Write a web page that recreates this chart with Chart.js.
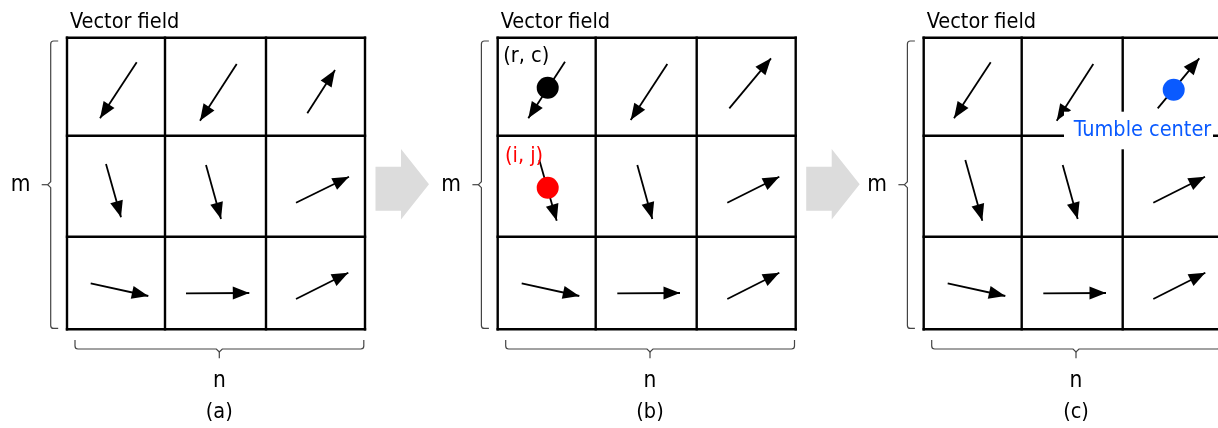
<!DOCTYPE html>
<html>
<head>
<meta charset="utf-8">
<script src="https://cdn.jsdelivr.net/npm/chart.js@4/dist/chart.umd.min.js"></script>
<style>
  html, body { margin: 0; padding: 0; background: #ffffff; }
  #wrap { width: 1218px; height: 428px; }
</style>
</head>
<body>
<div id="wrap"><canvas id="c" width="1218" height="428"></canvas></div>
<script>
// ---------------- data ----------------
const panelLabels = ['(a)', '(b)', '(c)'];
const panelTitle = 'Vector field';
const rowAxisLabel = 'm';
const colAxisLabel = 'n';
// grid cell edges (cell units), 3 columns (n) x 3 rows (m)
const colEdges = [0, 0.98, 1.99, 2.98];
const rowEdges = [0, 0.98, 1.99, 2.915];
// vector field per panel: [tailX, tailY, tipX, tipY] per cell, rows top->bottom
const fieldA = [
  [0.697, 0.246, 0.330, 0.806], [1.697, 0.263, 1.330, 0.830], [2.403, 0.756, 2.680, 0.323],
  [0.390, 1.263, 0.540, 1.796], [1.390, 1.273, 1.540, 1.813], [2.290, 1.650, 2.820, 1.390],
  [0.237, 2.456, 0.813, 2.583], [1.190, 2.556, 1.823, 2.553], [2.290, 2.613, 2.813, 2.350]
];
const fieldB = [
  [0.673, 0.240, 0.306, 0.806], [1.696, 0.263, 1.330, 0.823], [2.316, 0.706, 2.733, 0.206],
  [0.416, 1.223, 0.590, 1.830], [1.396, 1.273, 1.546, 1.813], [2.296, 1.650, 2.816, 1.390],
  [0.240, 2.456, 0.816, 2.583], [1.196, 2.556, 1.823, 2.553], [2.296, 2.613, 2.816, 2.350]
];
const fieldC = [
  [0.670, 0.246, 0.303, 0.806], [1.696, 0.263, 1.330, 0.830], [2.340, 0.706, 2.756, 0.206],
  [0.416, 1.223, 0.586, 1.830], [1.390, 1.273, 1.540, 1.813], [2.296, 1.650, 2.813, 1.390],
  [0.240, 2.456, 0.816, 2.583], [1.196, 2.556, 1.823, 2.553], [2.296, 2.613, 2.816, 2.350]
];
const panelFields = [fieldA, fieldB, fieldC];
// highlighted cells: panel index, x, y (cell units), label
const markerPanel = [1, 1, 2];
const markerX = [0.50, 0.50, 2.50];
const markerY = [0.50, 1.50, 0.52];
const markerText = ['(r, c)', '(i, j)', 'Tumble center'];

// ---------------- layout / style ----------------
const panelOffsetX = [0, 4.307, 8.567];
const markerColors = ['#000000', '#ff0000', '#0a5aff'];
const FONT = '"DejaVu Sans Condensed", "DejaVu Sans", sans-serif';

// ---------------- datasets ----------------
const datasets = [];
markerX.forEach((mx, i) => {
  datasets.push({
    data: [{ x: panelOffsetX[markerPanel[i]] + mx, y: markerY[i] }],
    pointRadius: 11,
    pointBackgroundColor: markerColors[i],
    pointBorderWidth: 0,
    showLine: false,
    order: 0
  });
});
panelFields.forEach((field, p) => {
  field.forEach(v => {
    datasets.push({
      data: [{ x: panelOffsetX[p] + v[0], y: v[1] }, { x: panelOffsetX[p] + v[2], y: v[3] }],
      showLine: true,
      borderColor: '#000000',
      borderWidth: 1.8,
      pointRadius: 0,
      isArrow: true,
      order: 1
    });
  });
});

const arrowHeads = {
  id: 'arrowHeads',
  afterDatasetDraw(chart, args) {
    const ds = chart.data.datasets[args.index];
    if (!ds.isArrow) return;
    const pts = args.meta.data;
    const a = pts[0], b = pts[1];
    const ang = Math.atan2(b.y - a.y, b.x - a.x);
    const L = 16.5, W = 6.5;
    const ctx = chart.ctx;
    ctx.save();
    ctx.fillStyle = '#000';
    ctx.beginPath();
    ctx.moveTo(b.x, b.y);
    ctx.lineTo(b.x - L * Math.cos(ang) + W * Math.sin(ang), b.y - L * Math.sin(ang) - W * Math.cos(ang));
    ctx.lineTo(b.x - L * Math.cos(ang) - W * Math.sin(ang), b.y - L * Math.sin(ang) + W * Math.cos(ang));
    ctx.closePath();
    ctx.fill();
    ctx.restore();
  }
};

const decorations = {
  id: 'decorations',
  beforeDatasetsDraw(chart) {
    const ctx = chart.ctx;
    const xs = chart.scales.x, ys = chart.scales.y;
    const X = (p, v) => xs.getPixelForValue(panelOffsetX[p] + v);
    const Y = v => ys.getPixelForValue(v);
    ctx.save();
    panelOffsetX.forEach((off, p) => {
      // grid
      ctx.strokeStyle = '#000';
      ctx.lineWidth = 2.4;
      ctx.lineCap = 'square';
      colEdges.forEach(c => {
        ctx.beginPath();
        ctx.moveTo(X(p, c), Y(rowEdges[0]));
        ctx.lineTo(X(p, c), Y(rowEdges[rowEdges.length - 1]));
        ctx.stroke();
      });
      rowEdges.forEach(r => {
        ctx.beginPath();
        ctx.moveTo(X(p, colEdges[0]), Y(r));
        ctx.lineTo(X(p, colEdges[colEdges.length - 1]), Y(r));
        ctx.stroke();
      });
      // left brace (m)
      ctx.strokeStyle = '#444';
      ctx.lineWidth = 1.2;
      ctx.lineCap = 'butt';
      const bx = X(p, -0.163), hx = X(p, -0.088);
      const yt = Y(0.033), yb = Y(2.907), ym = Y(1.47);
      ctx.beginPath();
      ctx.moveTo(hx, yt);
      ctx.lineTo(bx + 3, yt);
      ctx.quadraticCurveTo(bx, yt, bx, yt + 3);
      ctx.lineTo(bx, ym - 3);
      ctx.lineTo(bx - 3, ym);
      ctx.lineTo(bx, ym + 3);
      ctx.lineTo(bx, yb - 3);
      ctx.quadraticCurveTo(bx, yb, bx + 3, yb);
      ctx.lineTo(hx, yb);
      ctx.stroke();
      ctx.beginPath();
      ctx.moveTo(bx - 3, ym);
      ctx.lineTo(X(p, -0.253), ym);
      ctx.stroke();
      // bottom brace (n)
      const by = Y(3.113), hy = Y(3.023);
      const xl = X(p, 0.08), xr = X(p, 2.968), xm = X(p, 1.523);
      ctx.beginPath();
      ctx.moveTo(xl, hy);
      ctx.lineTo(xl, by - 3);
      ctx.quadraticCurveTo(xl, by, xl + 3, by);
      ctx.lineTo(xm - 3, by);
      ctx.lineTo(xm, by + 3);
      ctx.lineTo(xm + 3, by);
      ctx.lineTo(xr - 3, by);
      ctx.quadraticCurveTo(xr, by, xr, by - 3);
      ctx.lineTo(xr, hy);
      ctx.stroke();
      ctx.beginPath();
      ctx.moveTo(xm, by + 3);
      ctx.lineTo(xm, Y(3.206));
      ctx.stroke();
      // texts
      ctx.fillStyle = '#000';
      ctx.font = '21.5px ' + FONT;
      ctx.textBaseline = 'alphabetic';
      ctx.textAlign = 'left';
      ctx.fillText(panelTitle, X(p, 0.03), Y(-0.094));
      ctx.textAlign = 'center';
      ctx.font = '22.5px ' + FONT;
      ctx.fillText(rowAxisLabel, X(p, -0.465), Y(1.53));
      ctx.fillText(colAxisLabel, X(p, 1.523), Y(3.493));
      ctx.font = '21.5px ' + FONT;
      ctx.fillText(panelLabels[p], X(p, 1.523), Y(3.80));
      // gray transition arrow
      if (p < panelOffsetX.length - 1) {
        ctx.fillStyle = '#dcdcdc';
        ctx.beginPath();
        ctx.moveTo(X(p, 3.085), Y(1.29));
        ctx.lineTo(X(p, 3.34), Y(1.29));
        ctx.lineTo(X(p, 3.34), Y(1.113));
        ctx.lineTo(X(p, 3.62), Y(1.466));
        ctx.lineTo(X(p, 3.34), Y(1.818));
        ctx.lineTo(X(p, 3.34), Y(1.73));
        ctx.lineTo(X(p, 3.085), Y(1.73));
        ctx.closePath();
        ctx.fill();
      }
    });
    ctx.restore();
  },
  afterDatasetsDraw(chart) {
    const ctx = chart.ctx;
    const xs = chart.scales.x, ys = chart.scales.y;
    const X = (p, v) => xs.getPixelForValue(panelOffsetX[p] + v);
    const Y = v => ys.getPixelForValue(v);
    ctx.save();
    // cell labels
    ctx.font = '21.5px ' + FONT;
    ctx.textAlign = 'left';
    ctx.textBaseline = 'alphabetic';
    ctx.fillStyle = markerColors[0];
    ctx.fillText(markerText[0], X(markerPanel[0], 0.056), Y(0.243));
    ctx.fillStyle = markerColors[1];
    ctx.fillText(markerText[1], X(markerPanel[1], 0.073), Y(1.238));
    // tumble center box + label
    const p = markerPanel[2];
    ctx.fillStyle = '#ffffff';
    ctx.fillRect(X(p, 1.403), Y(0.74), X(p, 2.893) - X(p, 1.403), Y(1.116) - Y(0.74));
    ctx.fillStyle = markerColors[2];
    ctx.font = '21.5px ' + FONT;
    ctx.textAlign = 'center';
    ctx.fillText(markerText[2], X(p, 2.188), Y(0.983));
    ctx.restore();
  }
};

new Chart(document.getElementById('c'), {
  type: 'scatter',
  data: { datasets },
  options: {
    responsive: false,
    animation: false,
    devicePixelRatio: 1,
    events: [],
    layout: { padding: 0, autoPadding: false },
    plugins: { legend: { display: false }, tooltip: { enabled: false } },
    scales: {
      x: { type: 'linear', min: -0.67, max: 11.51, display: false },
      y: { type: 'linear', min: -0.377, max: 3.903, reverse: true, display: false }
    }
  },
  plugins: [decorations, arrowHeads]
});
</script>
</body>
</html>
